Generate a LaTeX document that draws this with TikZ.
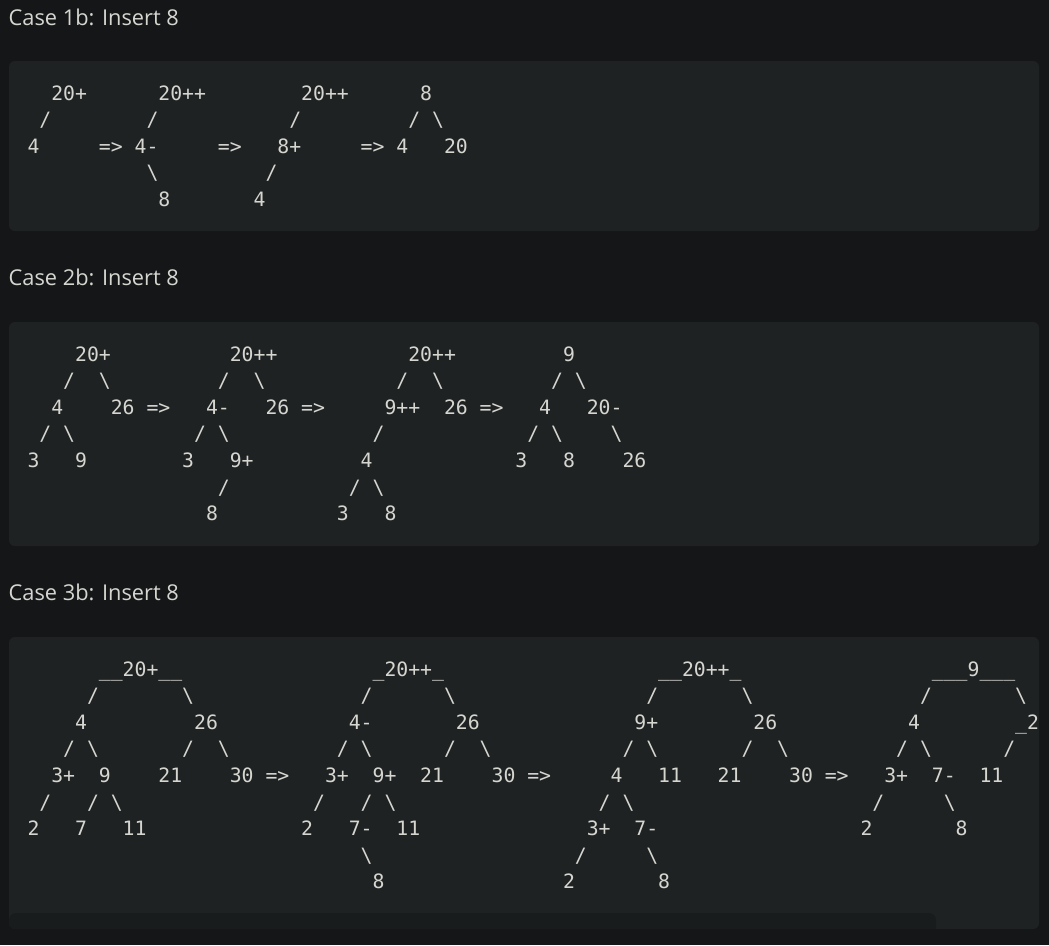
\documentclass[tikz,border=0pt]{standalone}
\usepackage{fontspec}
\setmainfont{Open Sans}
\setmonofont{DejaVu Sans Mono}
\definecolor{pagebg}{RGB}{21,22,24}
\definecolor{codebg}{RGB}{31,34,35}
\definecolor{scrollbg}{RGB}{25,28,29}
\definecolor{codefg}{RGB}{214,214,209}
\tikzstyle{heading}=[anchor=base west,inner sep=0pt,text=codefg,font=\fontsize{21.8}{26}\selectfont]
\tikzstyle{codebox}=[fill=codebg,rounded corners=6pt]
\tikzstyle{tok}=[anchor=base west,inner sep=0pt,text=codefg,font=\ttfamily\fontsize{19.77}{24}\selectfont]
\newcommand{\treeL}{/}
\newcommand{\treeR}{\textbackslash}

\begin{document}
\begin{tikzpicture}[x=1pt,y=-1pt]

  \fill[pagebg] (0,0) rectangle (1049,945);
  \useasboundingbox (0,0) rectangle (1049,945);

  % case 1b
  \node[heading] (h1) at (8.5,25.7) {Case 1b: Insert 8};
  \fill[codebox] (9,61) rectangle (1039,231);
  \foreach \row/\col/\txt in {0/2/20+, 0/11/20++, 0/23/20++, 0/33/8,
      1/1/\treeL, 1/10/\treeL, 1/22/\treeL, 1/32/\treeL, 1/34/\treeR,
      2/0/4, 2/6/=>, 2/9/4-, 2/16/=>, 2/21/8+, 2/28/=>, 2/31/4, 2/35/20,
      3/10/\treeR, 3/20/\treeL,
      4/11/8, 4/19/4} {
    \node[tok] (one-\row-\col) at ({27.3+11.9*\col},{100+26.6*\row}) {\txt};
  }

  % case 2b
  \node[heading] (h2) at (8.5,285.7) {Case 2b: Insert 8};
  \fill[codebox] (9,322) rectangle (1039,546);
  \foreach \row/\col/\txt in {0/4/20+, 0/17/20++, 0/32/20++, 0/45/9,
      1/3/\treeL, 1/6/\treeR, 1/16/\treeL, 1/19/\treeR, 1/31/\treeL, 1/34/\treeR, 1/44/\treeL, 1/46/\treeR,
      2/2/4, 2/7/26, 2/10/=>, 2/15/4-, 2/20/26, 2/23/=>, 2/30/9++, 2/35/26, 2/38/=>, 2/43/4, 2/47/20-,
      3/1/\treeL, 3/3/\treeR, 3/14/\treeL, 3/16/\treeR, 3/29/\treeL, 3/42/\treeL, 3/44/\treeR, 3/49/\treeR,
      4/0/3, 4/4/9, 4/13/3, 4/17/9+, 4/28/4, 4/41/3, 4/45/8, 4/50/26,
      5/16/\treeL, 5/27/\treeL, 5/29/\treeR,
      6/15/8, 6/26/3, 6/30/8} {
    \node[tok] (two-\row-\col) at ({27.3+11.9*\col},{361+26.6*\row}) {\txt};
  }

  % case 3b, scrolled block
  \node[heading] (h3) at (8.5,600.7) {Case 3b: Insert 8};
  \fill[codebox] (9,637) rectangle (1039,929);
  \begin{scope}
    \clip[rounded corners=6pt] (9,637) rectangle (1039,929);
    \fill[scrollbg,rounded corners=7pt] (9,913) rectangle (936,935);
    \foreach \row/\col/\txt in {0/6/\_\_20+\_\_, 0/29/\_20++\_, 0/53/\_\_20++\_, 0/76/\_\_\_9\_\_\_,
        1/5/\treeL, 1/13/\treeR, 1/28/\treeL, 1/35/\treeR, 1/52/\treeL, 1/60/\treeR, 1/75/\treeL, 1/83/\treeR,
        2/4/4, 2/14/26, 2/27/4-, 2/36/26, 2/51/9+, 2/61/26, 2/74/4, 2/83/\_2,
        3/3/\treeL, 3/5/\treeR, 3/13/\treeL, 3/16/\treeR, 3/26/\treeL, 3/28/\treeR, 3/35/\treeL, 3/38/\treeR,
        3/50/\treeL, 3/52/\treeR, 3/60/\treeL, 3/63/\treeR, 3/73/\treeL, 3/75/\treeR, 3/82/\treeL,
        4/2/3+, 4/6/9, 4/11/21, 4/17/30, 4/20/=>, 4/25/3+, 4/29/9+, 4/33/21, 4/39/30, 4/42/=>,
        4/49/4, 4/53/11, 4/58/21, 4/64/30, 4/67/=>, 4/72/3+, 4/76/7-, 4/80/11,
        5/1/\treeL, 5/5/\treeL, 5/7/\treeR, 5/24/\treeL, 5/28/\treeL, 5/30/\treeR, 5/48/\treeL, 5/50/\treeR, 5/71/\treeL, 5/77/\treeR,
        6/0/2, 6/4/7, 6/8/11, 6/23/2, 6/27/7-, 6/31/11, 6/47/3+, 6/51/7-, 6/70/2, 6/78/8,
        7/28/\treeR, 7/46/\treeL, 7/52/\treeR,
        8/29/8, 8/45/2, 8/53/8} {
      \node[tok] (three-\row-\col) at ({27.3+11.9*\col},{676+26.6*\row}) {\txt};
    }
  \end{scope}

\end{tikzpicture}
\end{document}
